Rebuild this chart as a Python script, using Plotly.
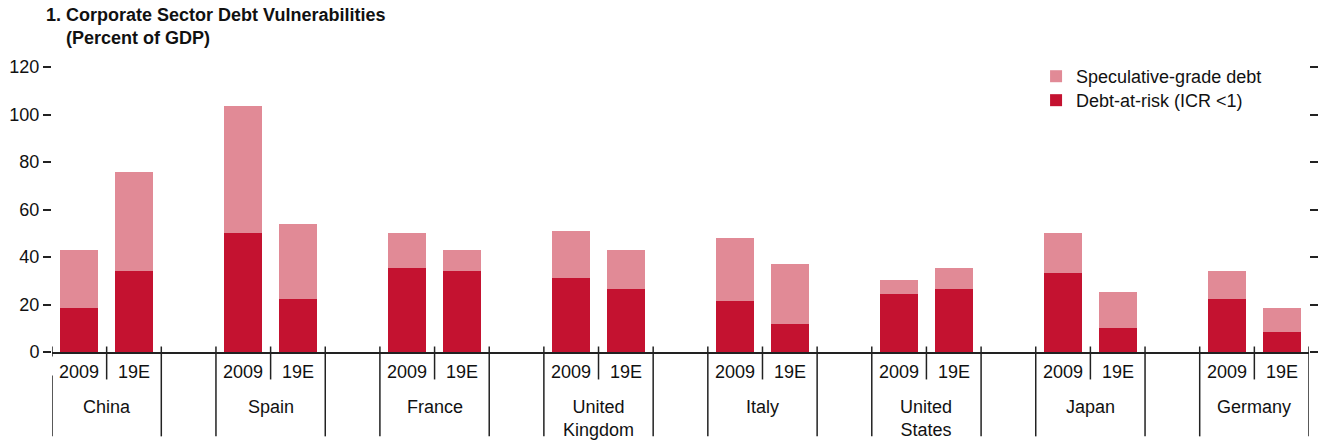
import plotly.graph_objects as go

# Chart data
countries = ["China", "Spain", "France", "United<br>Kingdom", "Italy",
             "United<br>States", "Japan", "Germany"]
years = ["2009", "19E"]
spec_2009 = [43.1, 103.6, 50.2, 51.1, 48.1, 30.5, 50.2, 34.2]
spec_19e = [75.8, 54.0, 43.1, 43.1, 37.2, 35.5, 25.4, 18.7]
dar_2009 = [18.7, 50.2, 35.5, 31.3, 21.6, 24.6, 33.4, 22.5]
dar_19e = [34.2, 22.5, 34.2, 26.7, 11.6, 26.7, 9.9, 8.6]
y_ticks = [0, 20, 40, 60, 80, 100, 120]

# Styles
FONT = "Liberation Sans Narrow, Arial Narrow, Liberation Sans, Arial, sans-serif"
FS = 18
spec_color = "#E18A96"
dar_color = "#C41230"
line_color = "#222222"
text_color = "#111111"

# Each country takes three slots: 2009, 19E, and a blank spacer
xs, spec_vals, dar_vals = [], [], []
for i in range(len(countries)):
    xs += [3 * i, 3 * i + 1]
    spec_vals += [spec_2009[i], spec_19e[i]]
    dar_vals += [dar_2009[i], dar_19e[i]]

fig = go.Figure()
fig.add_trace(go.Bar(x=xs, y=spec_vals, name="Speculative-grade debt", legend="legend",
                     marker=dict(color=spec_color, line=dict(width=0)), width=0.7))
fig.add_trace(go.Bar(x=xs, y=dar_vals, name="Debt-at-risk (ICR <1)", legend="legend2",
                     marker=dict(color=dar_color, line=dict(width=0)), width=0.7))
# invisible trace so the right-hand tick axis is drawn
fig.add_trace(go.Scatter(x=[None], y=[None], yaxis="y2", showlegend=False))

# plot area in pixels: x 51.7..1309, y 67..352.5
def py(pix):
    return (352.5 - pix) / 285.5

def px_(pix):
    return (pix - 51.7) / 1257.3

shapes = []
annotations = []
sep = dict(color=line_color, width=1.5)
for i, c in enumerate(countries):
    left, mid, right = 3 * i - 0.5, 3 * i + 0.5, 3 * i + 1.5
    if i == 0:
        shapes.append(dict(type="line", xref="x", yref="paper", x0=left, x1=left,
                           y0=py(347), y1=py(357), line=sep))
        shapes.append(dict(type="line", xref="x", yref="paper", x0=left, x1=left,
                           y0=py(376), y1=py(437), line=sep))
    else:
        shapes.append(dict(type="line", xref="x", yref="paper", x0=left, x1=left,
                           y0=py(347), y1=py(437), line=sep))
    shapes.append(dict(type="line", xref="x", yref="paper", x0=mid, x1=mid,
                       y0=py(347), y1=py(380), line=sep))
    shapes.append(dict(type="line", xref="x", yref="paper", x0=right, x1=right,
                       y0=py(347), y1=py(437), line=sep))
    for j, yr in enumerate(years):
        annotations.append(dict(x=3 * i + j, xref="x", y=py(373), yref="paper",
                                text=yr, showarrow=False, yanchor="middle",
                                font=dict(size=FS, color=text_color)))
    annotations.append(dict(x=mid, xref="x", y=py(396), yref="paper", text=c,
                            showarrow=False, yanchor="top",
                            font=dict(size=FS, color=text_color)))

# Title
annotations.append(dict(x=px_(44), xref="paper", y=py(15), yref="paper",
                        text="<b>1. Corporate Sector Debt Vulnerabilities</b>",
                        showarrow=False, xanchor="left", yanchor="middle",
                        font=dict(size=FS, color=text_color)))
annotations.append(dict(x=px_(64), xref="paper", y=py(38), yref="paper",
                        text="<b>(Percent of GDP)</b>",
                        showarrow=False, xanchor="left", yanchor="middle",
                        font=dict(size=FS, color=text_color)))

legend_style = dict(xanchor="left", yanchor="top", bgcolor="rgba(0,0,0,0)",
                    font=dict(size=FS), itemwidth=30)

fig.update_layout(
    width=1325, height=443,
    margin=dict(l=51.7, r=16, t=67, b=90.5, autoexpand=False),
    plot_bgcolor="white", paper_bgcolor="white",
    barmode="overlay",
    bargap=0,
    font=dict(family=FONT, size=FS, color=text_color),
    xaxis=dict(range=[-0.5, 22.5], showticklabels=False, showgrid=False, zeroline=False,
               showline=True, linecolor=line_color, linewidth=1.5, ticks="",
               automargin=False),
    yaxis=dict(range=[0, 120], tickvals=y_ticks, showgrid=False, zeroline=False,
               ticks="outside", ticklen=8, tickwidth=1.5, tickcolor=line_color,
               showline=False, tickfont=dict(size=FS), automargin=False),
    yaxis2=dict(range=[0, 120], tickvals=y_ticks, overlaying="y", side="right",
                showgrid=False, zeroline=False, showticklabels=False,
                ticks="outside", ticklen=8, tickwidth=1.5, tickcolor=line_color,
                automargin=False),
    legend=dict(x=px_(1036), y=py(58), **legend_style),
    legend2=dict(x=px_(1036), y=py(82), **legend_style),
    shapes=shapes,
    annotations=annotations,
    showlegend=True,
)

fig.write_html("out.html", config={"displayModeBar": False},
               post_script="document.body.style.margin='0';")
